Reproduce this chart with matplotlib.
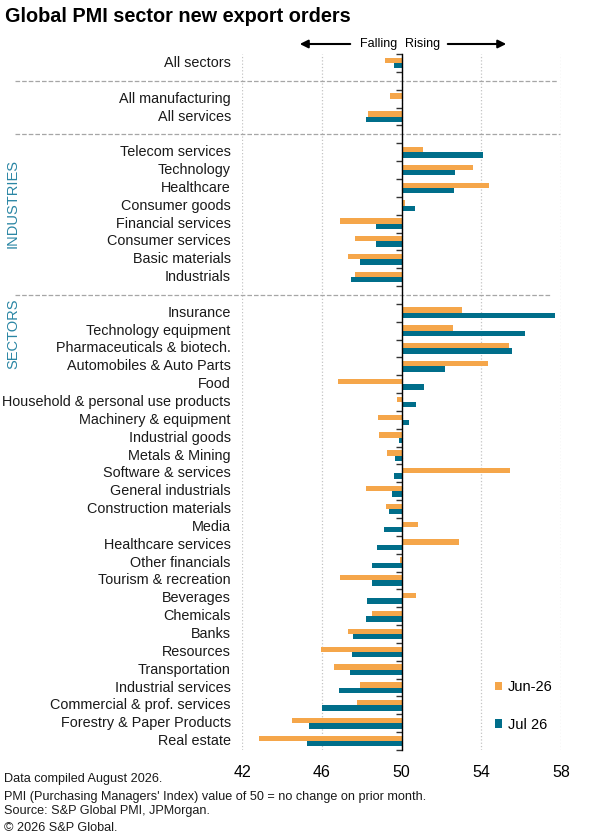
import matplotlib.pyplot as plt
import numpy as np
from matplotlib.transforms import blended_transform_factory

plt.rcParams['font.family'] = ['Liberation Sans', 'DejaVu Sans']

# values (PMI, 50 = no change)
summary = ["All sectors", "All manufacturing", "All services"]
summary_jun = [49.15, 49.42, 48.3]
summary_jul = [49.6, 50.08, 48.2]

industries = ["Telecom services", "Technology", "Healthcare", "Consumer goods",
              "Financial services", "Consumer services", "Basic materials", "Industrials"]
ind_jun = [51.1, 53.6, 54.4, 50.17, 46.93, 47.68, 47.33, 47.68]
ind_jul = [54.1, 52.7, 52.65, 50.7, 48.73, 48.7, 47.93, 47.49]

sectors = ["Insurance", "Technology equipment", "Pharmaceuticals & biotech.",
           "Automobiles & Auto Parts", "Food", "Household & personal use products",
           "Machinery & equipment", "Industrial goods", "Metals & Mining",
           "Software & services", "General industrials", "Construction materials",
           "Media", "Healthcare services", "Other financials", "Tourism & recreation",
           "Beverages", "Chemicals", "Banks", "Resources", "Transportation",
           "Industrial services", "Commercial & prof. services",
           "Forestry & Paper Products", "Real estate"]
sec_jun = [53.05, 52.6, 55.41, 54.34, 46.83, 49.79, 48.83, 48.89, 49.29, 55.45,
           48.23, 49.21, 50.83, 52.88, 49.94, 46.89, 50.73, 48.54, 47.33, 45.97,
           46.62, 47.93, 47.79, 44.53, 42.86]
sec_jul = [57.7, 56.2, 55.55, 52.19, 51.13, 50.73, 50.36, 49.88, 49.69, 49.6,
           49.5, 49.39, 49.12, 48.77, 48.54, 48.54, 48.29, 48.23, 47.58, 47.54,
           47.41, 46.85, 46.0, 45.36, 45.28]

orange = "#F5A64A"
teal = "#006E8A"

labels = summary + industries + sectors
jun = np.array(summary_jun + ind_jun + sec_jun)
jul = np.array(summary_jul + ind_jul + sec_jul)
# row slots, leaving an empty row between groups
rows = np.array([0, 2, 3] + list(range(5, 13)) + list(range(14, 39)))
sep_rows = [1, 4, 13]

fig = plt.figure(figsize=(6.01, 8.38), dpi=100)
ax = fig.add_axes([0.4027, 0.105, 0.5308, 0.8305])

h = 0.3
b1 = ax.barh(rows - h / 2, jun - 50, left=50, height=h, color=orange, label="Jun-26")
b2 = ax.barh(rows + h / 2, jul - 50, left=50, height=h, color=teal, label="Jul 26")

ax.set_xlim(42, 58)
ax.set_ylim(38.5, -0.5)
ax.set_xticks([42, 46, 50, 54, 58])
ax.grid(axis="x", linestyle=":", color="#c4c4c4", linewidth=0.9)
ax.set_axisbelow(True)
for s in ["top", "right", "bottom"]:
    ax.spines[s].set_visible(False)
ax.spines["left"].set_position(("data", 50))
ax.spines["left"].set_linewidth(1.0)
ax.set_yticks(np.arange(-0.5, 39, 1))
ax.set_yticklabels([])
ax.tick_params(axis="y", direction="out", length=4, width=1, color="#333333")
ax.tick_params(axis="x", length=0, pad=11, labelsize=11.5)

tr = blended_transform_factory(ax.transAxes, ax.transData)
for name, r in zip(labels, rows):
    ax.text(-0.035, r, name, transform=tr, ha="right", va="center", fontsize=10.4, color="#1a1a1a")

sep_ends = [0.987, 0.997, 0.969]
for r, e in zip(sep_rows, sep_ends):
    ax.plot([-0.712, e], [r, r], transform=tr, linestyle="--", color="#a6a6a6",
            linewidth=0.9, clip_on=False)

fig.text(13 / 601, 1 - 203 / 838, "INDUSTRIES", rotation=90, color="#2A86A4",
         fontsize=10.5, ha="center", va="center")
fig.text(13 / 601, 1 - 334 / 838, "SECTORS", rotation=90, color="#2A86A4",
         fontsize=10.5, ha="center", va="center")

ax.legend(handles=[b1, b2], loc="upper left", bbox_to_anchor=(0.823, 0.188),
          bbox_transform=fig.transFigure, frameon=False, fontsize=10.5,
          handlelength=0.5, handleheight=0.5, handletextpad=0.4,
          labelspacing=1.6, borderpad=0, borderaxespad=0)

# Falling / Rising arrows
ya = 1 - 44 / 838
ax.annotate("", xy=(297 / 601, ya), xytext=(353 / 601, ya), xycoords="figure fraction",
            arrowprops=dict(arrowstyle="-|>", color="black", lw=1.5, mutation_scale=12),
            annotation_clip=False)
ax.annotate("", xy=(509 / 601, ya), xytext=(445 / 601, ya), xycoords="figure fraction",
            arrowprops=dict(arrowstyle="-|>", color="black", lw=1.5, mutation_scale=12),
            annotation_clip=False)
fig.text(397 / 601, ya, "Falling", ha="right", va="center", fontsize=9)
fig.text(405 / 601, ya, "Rising", ha="left", va="center", fontsize=9)

fig.text(0.008, 1 - 16 / 838, "Global PMI sector new export orders", fontsize=14.3,
         fontweight="bold", va="center")

foot = [("Data compiled August 2026.", 779),
        ("PMI (Purchasing Managers' Index) value of 50 = no change on prior month.", 797),
        ("Source: S&P Global PMI, JPMorgan.", 811),
        ("\u00a9 2026 S&P Global.", 828)]
for txt, yp in foot:
    fig.text(0.007, 1 - yp / 838, txt, fontsize=9.1, va="center", color="#1a1a1a")

fig.savefig("out.png", dpi=100)
